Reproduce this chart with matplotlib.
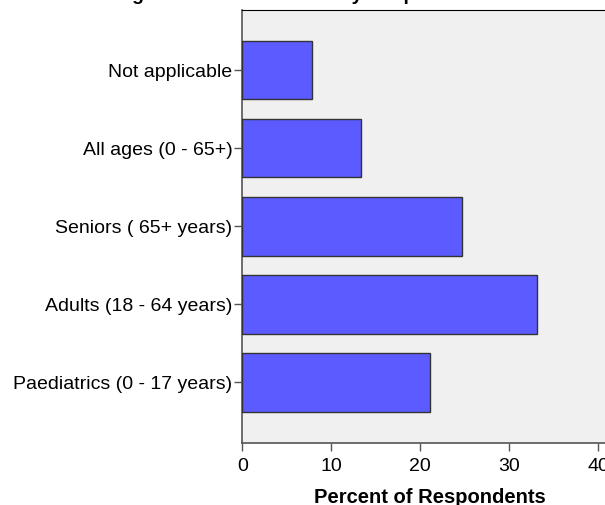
import matplotlib.pyplot as plt

categories = ["Paediatrics (0 - 17 years)", "Adults (18 - 64 years)",
              "Seniors ( 65+ years)", "All ages (0 - 65+)", "Not applicable"]
percent = [21.1, 33.1, 24.7, 13.3, 7.8]
xticks = [0, 10, 20, 30, 40]

plt.rcParams['font.family'] = ['Liberation Sans', 'DejaVu Sans']

fig = plt.figure(figsize=(6.05, 5.05), dpi=100)
# axes runs past the right edge, as in the cropped original
ax = fig.add_axes([242.3 / 605, 1 - 443 / 505, 376 / 605, 433.5 / 505])
ax.set_facecolor('#f0f0f0')

ax.barh(range(len(categories)), percent, height=0.75, color='#5b5bff',
        edgecolor='#333333', linewidth=1.0, zorder=3)

ax.set_xlim(0, 376 / 8.9)
ax.set_ylim(-0.775, 4.775)
ax.set_xticks(xticks)
ax.set_yticks(range(len(categories)))
ax.set_yticklabels(categories)
ax.tick_params(axis='both', labelsize=14, colors='#555555', labelcolor='black',
               length=6, width=1)
ax.tick_params(axis='x', pad=5)
ax.tick_params(axis='y', pad=1)

for s in ['left', 'bottom']:
    ax.spines[s].set_color('#555555')
    ax.spines[s].set_linewidth(1.2)
ax.spines['top'].set_color('black')
ax.spines['right'].set_visible(False)

ax.set_xlabel("Percent of Respondents", fontsize=14.5, fontweight='bold', labelpad=9)

# title is mostly cut off in the original, only descenders show
fig.text(118 / 605, 1 + 0.5 / 505, "Ages of Clients Treated by Respondents",
         fontsize=14, fontweight='bold', ha='left', va='baseline')

fig.savefig('out.png', dpi=100)
